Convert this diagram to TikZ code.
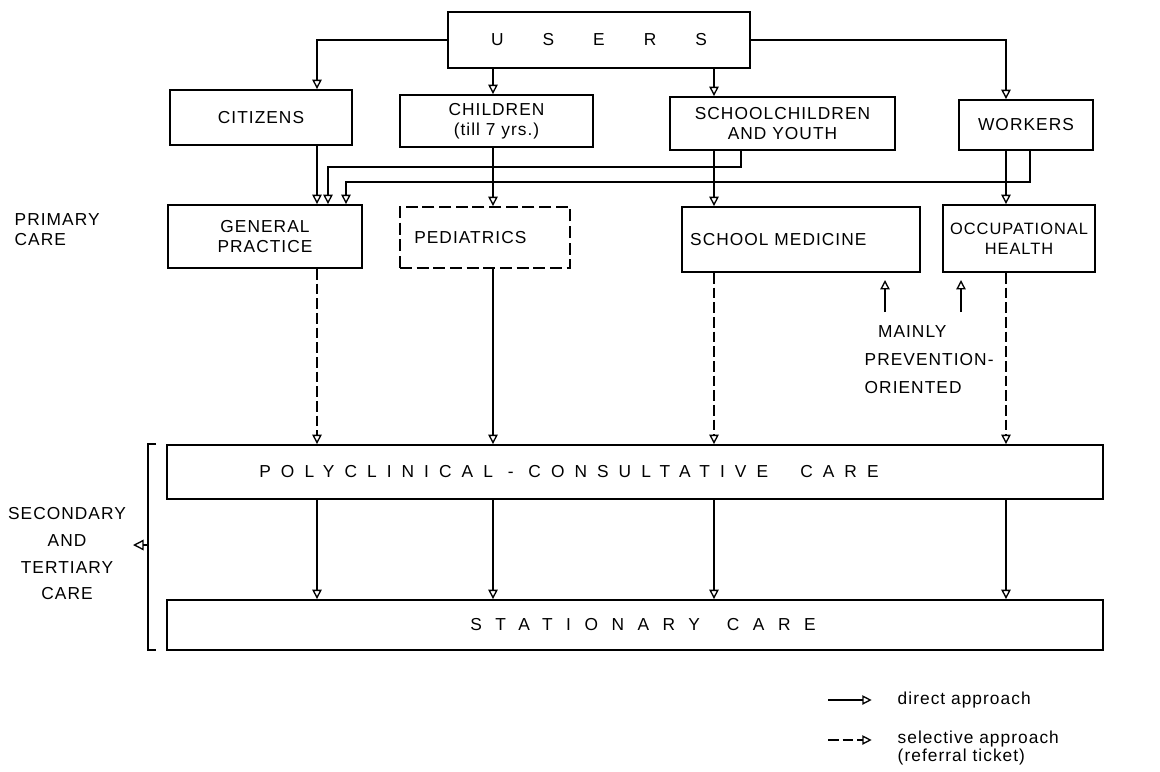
\documentclass[tikz,border=0pt]{standalone}
\usepackage{fontspec}
\setmainfont{Liberation Sans}[LetterSpace=6]
\newfontfamily\usersfont{Liberation Sans}[LetterSpace=225]
\newfontfamily\polyfont{Liberation Sans}[LetterSpace=58]
\newfontfamily\statfont{Liberation Sans}[LetterSpace=78]
\usetikzlibrary{arrows.meta}

\tikzset{
    box/.style={draw, line width=1.4pt, align=center, inner sep=2pt},
    dbox/.style={box, dash pattern=on 9pt off 3.5pt},
    size/.style 2 args={minimum width=#1*0.75pt, minimum height=#2*0.75pt},
    arr/.style={line width=1pt, -{Triangle[open, length=7pt, width=7pt]}},
    darr/.style={arr, dash pattern=on 8pt off 3pt},
}

\begin{document}
\begin{tikzpicture}[x=0.75pt, y=-0.75pt, font=\fontsize{13}{15}\selectfont]
    \useasboundingbox (0,0) rectangle (1160,771);

    % Columns of the connectors
    \coordinate (c1) at (317,0);
    \coordinate (c2) at (493,0);
    \coordinate (c3) at (714,0);
    \coordinate (c4) at (1006,0);

    % Users and groups
    \node[box, size={302}{56}, line width=2pt] (users) at (599,40) {\usersfont USERS};
    \node[box, size={182}{55}] (citizens) at (261,117.5) {CITIZENS};
    \node[box, size={193}{52}] (children) at (496.5,121) {CHILDREN\\(till 7 yrs.)};
    \node[box, size={225}{53}] (school) at (782.5,123.5) {SCHOOLCHILDREN\\AND YOUTH};
    \node[box, size={134}{50}] (workers) at (1026,125) {WORKERS};

    % Primary care
    \node[box, size={194}{63}] (gp) at (265,236.5) {GENERAL\\PRACTICE};
    \node[dbox, size={170}{61}] (ped) at (485,237.5) {PEDIATRICS\hspace*{22pt}};
    \node[box, size={238}{65}] (schmed) at (801,239.5) {SCHOOL MEDICINE\hspace*{34pt}};
    \node[box, size={152}{67}, font=\fontsize{12.3}{15}\selectfont] (occ) at (1019,238.5) {OCCUPATIONAL\\HEALTH};

    % Secondary and tertiary care
    \node[box, size={936}{54}] (poly) at (635,472) {\polyfont POLYCLINICAL - CONSULTATIVE\hspace{1em} CARE\hspace*{99pt}};
    \node[box, size={936}{50}] (stat) at (635,625) {\hspace*{12pt}\statfont STATIONARY\hspace{0.5em} CARE};

    % Labels on the left
    \node[anchor=west, align=left] (primary) at (10,230) {PRIMARY\\CARE};
    \node[align=center, font=\fontsize{13}{20}\selectfont] (secondary) at (67,554) {SECONDARY\\AND\\TERTIARY\\CARE};
    \coordinate (btop) at (148,444);
    \coordinate (bbot) at (148,650);
    \coordinate (bmid) at (148,545);
    \coordinate (bpoint) at (133,545);
    \draw[line width=1pt] ([xshift=6pt]btop) -- (btop) -- (bbot) -- ([xshift=6pt]bbot);
    \draw[line width=1pt, -{Triangle[open, length=8pt, width=8pt]}] (bmid) -- (bpoint);

    % Users to groups
    \draw[arr] (users.west) -| (citizens.north -| c1);
    \draw[arr] (users.south -| c2) -- (children.north -| c2);
    \draw[arr] (users.south -| c3) -- (school.north -| c3);
    \draw[arr] (users.east) -| (workers.north -| c4);

    % Groups to primary care
    \draw[arr] (citizens.south -| c1) -- (gp.north -| c1);
    \draw[arr] (children.south -| c2) -- (ped.north -| c2);
    \draw[arr] (school.south -| c3) -- (schmed.north -| c3);
    \draw[arr] (workers.south -| c4) -- (occ.north -| c4);
    \coordinate (s1) at (741,167);
    \coordinate (s2) at (328,167);
    \coordinate (w1) at (1030,182);
    \coordinate (w2) at (346,182);
    \draw[arr] (school.south -| s1) -- (s1) -- (s2) -- (gp.north -| s2);
    \draw[arr] (workers.south -| w1) -- (w1) -- (w2) -- (gp.north -| w2);

    % Primary care to polyclinic
    \draw[darr] (gp.south -| c1) -- (poly.north -| c1);
    \draw[arr] (ped.south -| c2) -- (poly.north -| c2);
    \draw[darr] (schmed.south -| c3) -- (poly.north -| c3);
    \draw[darr] (occ.south -| c4) -- (poly.north -| c4);

    % Polyclinic to stationary care
    \foreach \c in {c1,c2,c3,c4}
        \draw[arr] (poly.south -| \c) -- (stat.north -| \c);

    % Prevention note
    \node[anchor=north west, align=left, inner ysep=10pt, font=\fontsize{13}{21}\selectfont] (prevention) at (860,312) {\hspace*{10pt}MAINLY\\PREVENTION-\\ORIENTED};
    \coordinate (pa) at (885,280);
    \coordinate (pb) at (961,280);
    \draw[arr] (prevention.north -| pa) -- (pa);
    \draw[arr] (prevention.north -| pb) -- (pb);

    % Legend
    \node[anchor=west] (ldirect) at (893,700) {direct approach};
    \node[anchor=west, align=left, font=\fontsize{13}{13}\selectfont] (lselect) at (893,748) {selective approach\\(referral ticket)};
    \coordinate (l1) at (828,700);
    \coordinate (l2) at (828,740);
    \draw[arr] (l1) -- ([xshift=-16pt]ldirect.west);
    \draw[darr] (l2) -- ([xshift=-16pt]lselect.west |- l2);
\end{tikzpicture}
\end{document}
